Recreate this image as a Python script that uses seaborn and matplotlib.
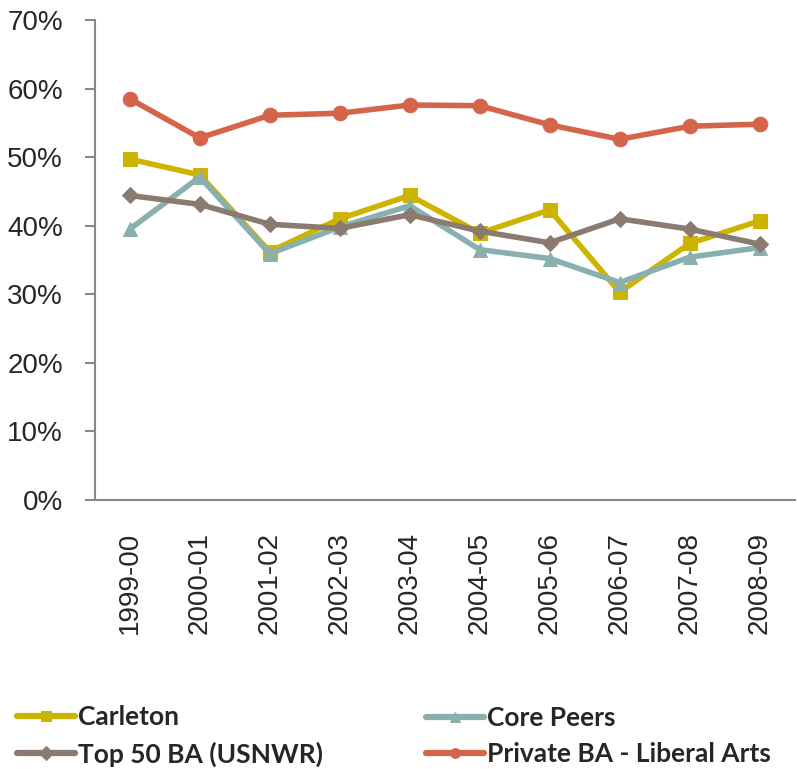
import pandas as pd
import seaborn as sns
import matplotlib.pyplot as plt

years = ["1999-00", "2000-01", "2001-02", "2002-03", "2003-04",
         "2004-05", "2005-06", "2006-07", "2007-08", "2008-09"]
carleton = [49.7, 47.4, 36.2, 41.0, 44.4, 38.9, 42.3, 30.3, 37.4, 40.7]
core_peers = [39.5, 47.1, 35.9, 39.8, 42.9, 36.5, 35.2, 31.7, 35.4, 36.8]
top50 = [44.4, 43.1, 40.2, 39.6, 41.6, 39.2, 37.5, 41.0, 39.5, 37.3]
private_ba = [58.5, 52.8, 56.1, 56.4, 57.6, 57.5, 54.7, 52.6, 54.5, 54.8]

series = ["Carleton", "Core Peers", "Top 50 BA (USNWR)", "Private BA - Liberal Arts"]
colors = ["#CCB400", "#8AAFAF", "#8B7A70", "#D4654A"]
markers = ["s", "^", "D", "o"]
sizes = [10.5, 10.5, 8.5, 10.5]

df = pd.DataFrame({"year": years, "idx": range(len(years)),
                   series[0]: carleton, series[1]: core_peers,
                   series[2]: top50, series[3]: private_ba})
long_df = df.melt(id_vars=["year", "idx"], var_name="series", value_name="pct")

sns.set_style("white")
plt.rcParams["font.family"] = ["Liberation Sans", "DejaVu Sans"]

fig, ax = plt.subplots(figsize=(7.97, 7.69), dpi=100)
fig.subplots_adjust(left=0.119, right=0.997, top=0.974, bottom=0.35)

for name, color, mk, ms in zip(series, colors, markers, sizes):
    sub = long_df[long_df["series"] == name]
    sns.lineplot(data=sub, x="idx", y="pct", ax=ax, color=color, linewidth=4,
                 marker=mk, markersize=ms, markeredgecolor=color, label=name)

ax.set_xlim(-0.5, len(years) - 0.5)
ax.set_ylim(0, 70)
ax.set_yticks(range(0, 71, 10))
ax.set_yticklabels([f"{v}%" for v in range(0, 71, 10)], fontsize=20)
ax.set_xticks(range(len(years)))
ax.set_xticklabels(years, rotation=90, fontsize=20)
ax.set_xticks([i - 0.5 for i in range(len(years) + 1)], minor=True)
ax.tick_params(axis="x", which="major", length=0, pad=23)
ax.tick_params(axis="x", which="minor", length=7, color="#888888", width=1.5, direction="out")
ax.tick_params(axis="y", length=7, color="#888888", width=1.5, direction="out",
               left=True, pad=16)
ax.set_xlabel("")
ax.set_ylabel("")

for side in ["top", "right"]:
    ax.spines[side].set_visible(False)
for side in ["left", "bottom"]:
    ax.spines[side].set_color("#888888")
    ax.spines[side].set_linewidth(1.5)

handles, labels = ax.get_legend_handles_labels()
ax.get_legend().remove()

legend_y = 1 - 736 / 769
for cols, x0 in [([0, 2], 17 / 797), ([1, 3], 426 / 797)]:
    leg = fig.legend([handles[i] for i in cols], [labels[i] for i in cols],
                     loc="center left", bbox_to_anchor=(x0, legend_y),
                     frameon=False, borderpad=0, borderaxespad=0,
                     handlelength=2.2, handletextpad=0.1, labelspacing=0.45,
                     prop={"family": "Lato", "weight": "bold", "size": 19})
    for h in leg.legend_handles:
        h.set_linewidth(4.5)
        h.set_markersize(7)

fig.savefig("out.png", dpi=100)
